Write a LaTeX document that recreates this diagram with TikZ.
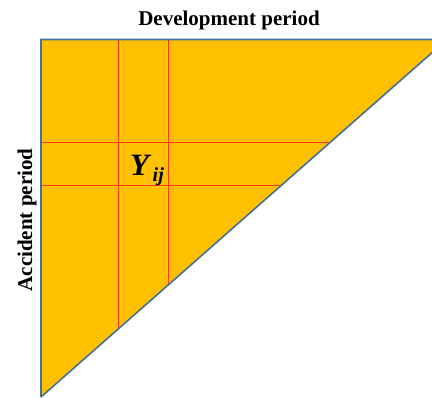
\documentclass[tikz,border=0pt]{standalone}
\usepackage{fontspec}
\setmainfont{Liberation Serif}
\definecolor{triFill}{HTML}{FFC000}
\definecolor{triEdge}{HTML}{41719C}
\definecolor{gridRed}{HTML}{FF3A10}
\begin{document}
\begin{tikzpicture}[x=1pt,y=-1pt,
  gridline/.style={draw=gridRed,line width=1.1pt},
  edgeline/.style={draw=triEdge,line width=1.6pt,line join=miter},
  labeltext/.style={font=\fontsize{21}{24}\selectfont\bfseries,inner sep=0pt}]
\useasboundingbox (0,0) rectangle (432,398);
\clip (0,0) rectangle (432,398);
\coordinate (A) at (41,39.5);
\coordinate (B) at (447,39.5);
\coordinate (C) at (41,397);
% fill
\fill[triFill] (A) -- (B) -- (C) -- cycle;
% grid lines (end on hypotenuse: x = 41 + (397-y)*1.1356)
\draw[gridline] (41,142.5) -- (330.3,142.5);
\draw[gridline] (41,185.5) -- (281.5,185.5);
\draw[gridline] (118.5,39.5) -- (118.5,329.0);
\draw[gridline] (168.5,39.5) -- (168.5,284.9);
% border
\draw[edgeline] (C) -- (A) -- (B) -- (C);
% texts
\node[labeltext,anchor=base] (dev) at (229,26) {Development period};
\node[labeltext,anchor=base,rotate=90] (acc) at (32,220) {Accident period};
\node[font=\fontsize{31}{34}\selectfont\bfseries\itshape,inner sep=0pt,anchor=base] (Y) at (139.5,175.5) {Y};
\node[font=\fontsize{20}{22}\selectfont\bfseries\itshape,inner sep=0pt,anchor=base west] (ij) at (152.5,182) {ij};
\end{tikzpicture}
\end{document}
